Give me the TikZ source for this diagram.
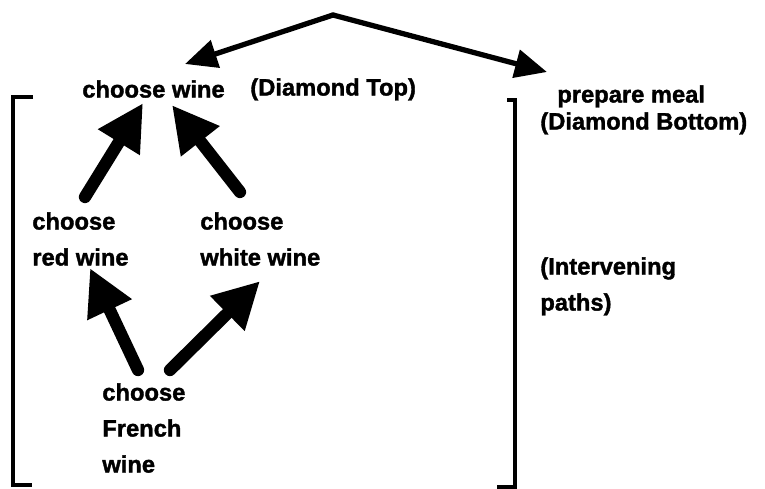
\documentclass[tikz,border=0pt]{standalone}
\usepackage{fontspec}
\setmainfont{Liberation Sans}[BoldFeatures={FakeBold=1.5}]
\usetikzlibrary{arrows.meta,calc}
\begin{document}
\begin{tikzpicture}[x=0.02cm,y=-0.02cm,
    lbl/.style={anchor=north west,inner sep=0pt,align=left,font=\fontsize{13.5}{20.5}\selectfont\bfseries},
    bigarrow/.style={line width=7pt,line cap=round,-{Triangle[length=0.92cm,width=0.92cm]}},
    toparrow/.style={line width=3pt,line cap=round,-{Triangle[length=0.64cm,width=0.56cm]}},
    brk/.style={line width=2.2pt}]
\useasboundingbox (0,0) rectangle (765,489);
\node[lbl] (wine) at (82,80) {choose wine};
\node[lbl] (top) at (250,78) {(Diamond Top)};
\node[lbl] (meal) at (557,85) {prepare meal};
\node[lbl] (bottom) at (540,112) {(Diamond Bottom)};
\node[lbl] (red) at (32,212) {choose\\red wine};
\node[lbl] (white) at (200,212) {choose\\white wine};
\node[lbl] (paths) at (540,257) {(Intervening\\paths)};
\node[lbl] (french) at (102,383) {choose\\French\\wine};
\coordinate (apex) at (333,15);
% the two branches
\draw[toparrow] (apex) -- ($(wine.north west)+(103,-16)$);
\draw[toparrow] (apex) -- ($(meal.north west)+(-10,-13)$);
% the diamond
\draw[bigarrow] ($(red.north west)+(53,-15)$) -- ($(wine.south west)+(61,5)$);
\draw[bigarrow] ($(white.north west)+(40,-20)$) -- ($(wine.south west)+(90,7)$);
\draw[bigarrow] ($(french.north west)+(36,-13)$) -- ($(red.south west)+(58,2)$);
\draw[bigarrow] ($(french.north west)+(68,-13)$) -- ($(white.south west)+(60,15)$);
% brackets
\draw[brk] (33,97) -- (13,97) -- (13,485) -- (32,485);
\draw[brk] (507,100) -- (515,100) -- (515,487) -- (497,487);
\end{tikzpicture}
\end{document}
